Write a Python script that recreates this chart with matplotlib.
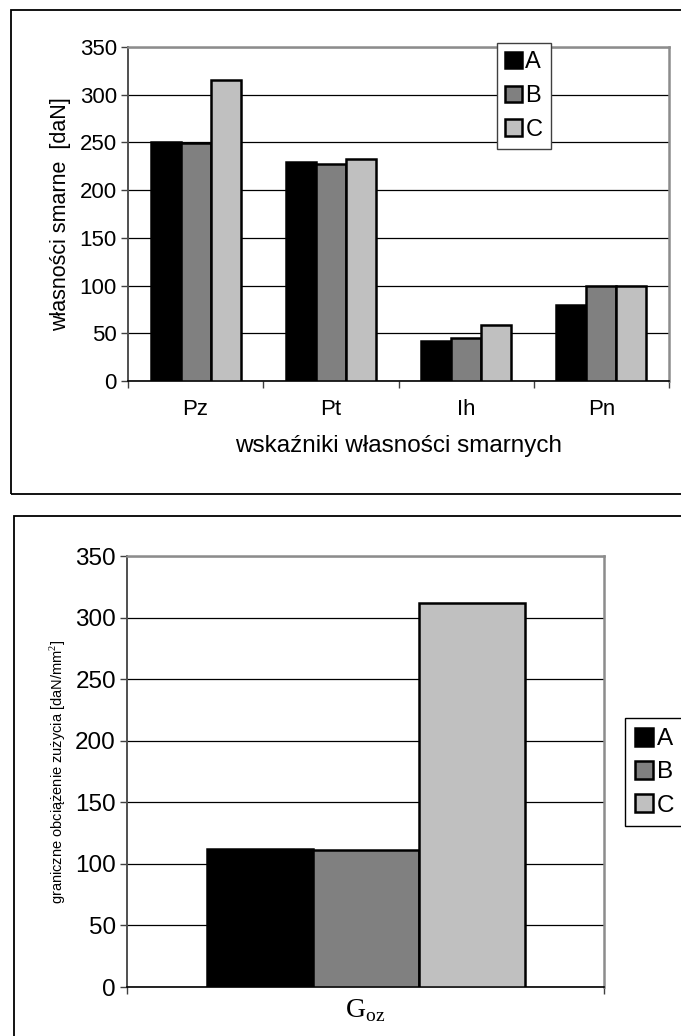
import numpy as np
import matplotlib
matplotlib.use("Agg")
from matplotlib import pyplot as plt
from matplotlib.patches import Rectangle

plt.rcParams['font.family'] = ['Liberation Sans', 'DejaVu Sans']
plt.rcParams['mathtext.fontset'] = 'custom'
plt.rcParams['mathtext.rm'] = 'Liberation Serif'

# lubricating properties of greases A, B, C
categories = ["Pz", "Pt", "Ih", "Pn"]
series = ["A", "B", "C"]
vals_A = [250, 230, 42, 80]
vals_B = [249, 227, 45, 100]
vals_C = [315, 233, 59, 100]

# wear load limit
goz_A = [112]
goz_B = [111]
goz_C = [312]

colors = ["#000000", "#808080", "#c0c0c0"]
W, H = 681, 1036

fig = plt.figure(figsize=(W / 100, H / 100), dpi=100)

# frames around both charts
fig.patches.append(Rectangle((11 / W, 1 - 494 / H), 2.0, (494 - 10) / H,
                             transform=fig.transFigure, fill=False,
                             edgecolor="black", linewidth=1.3))
fig.patches.append(Rectangle((14 / W, -1.0), 2.0, 1.0 + 1 - 516 / H,
                             transform=fig.transFigure, fill=False,
                             edgecolor="black", linewidth=1.3))


def style_axes(ax, ncat, fs):
    ax.set_ylim(0, 350)
    ax.set_yticks(np.arange(0, 351, 50))
    ax.set_xlim(0, ncat)
    ax.set_xticks(np.arange(ncat + 1))
    ax.set_xticklabels([])
    ax.yaxis.grid(True, color="black", linewidth=0.9)
    ax.set_axisbelow(True)
    for s in ["top", "right"]:
        ax.spines[s].set_color("#8c8c8c")
        ax.spines[s].set_linewidth(1.8)
    ax.spines["left"].set_color("#505050")
    ax.spines["left"].set_linewidth(1.4)
    ax.spines["bottom"].set_color("black")
    ax.spines["bottom"].set_linewidth(1.2)
    ax.tick_params(axis="both", direction="out", length=5, width=1,
                   color="#404040", labelsize=fs)
    ax.tick_params(axis="y", pad=3)


def draw_bars(ax, groups):
    bw = 1 / 4.5
    x = np.arange(len(groups[0])) + 0.5
    for i, (vals, c) in enumerate(zip(groups, colors)):
        ax.bar(x + (i - 1) * bw, vals, width=bw, color=c, edgecolor="black",
               linewidth=1.8, label=series[i], zorder=3)


# top chart
ax1 = fig.add_axes([128 / W, 1 - 381 / H, (669 - 128) / W, (381 - 47) / H])
draw_bars(ax1, [vals_A, vals_B, vals_C])
style_axes(ax1, len(categories), 16)
ax1.set_xticks(np.arange(len(categories)) + 0.5, minor=True)
ax1.set_xticklabels(categories, minor=True, fontsize=16)
ax1.tick_params(axis="x", which="minor", length=0, pad=13)
ax1.set_xlabel("wskaźniki własności smarnych", fontsize=17.5, labelpad=11)
ax1.set_ylabel("własności smarne  [daN]", fontsize=15.5, labelpad=6)
leg1 = ax1.legend(loc="upper left", bbox_to_anchor=(497 / W, 1 - 43 / H),
                  bbox_transform=fig.transFigure, fontsize=17,
                  handlelength=0.7, handleheight=0.7, handletextpad=0.15,
                  labelspacing=0.5, borderpad=0.35, borderaxespad=0,
                  fancybox=False, edgecolor="#404040", framealpha=1)
leg1.get_frame().set_linewidth(1.0)

# bottom chart
ax2 = fig.add_axes([127 / W, 1 - 987 / H, (604 - 127) / W, (987 - 556) / H])
draw_bars(ax2, [goz_A, goz_B, goz_C])
style_axes(ax2, 1, 17.5)
ax2.set_xticks([0.5], minor=True)
ax2.set_xticklabels([r"$\mathrm{G}_{\mathrm{oz}}$"], minor=True, fontsize=20)
ax2.tick_params(axis="x", which="minor", length=0, pad=7)
ax2.set_ylabel("graniczne obciążenie zużycia [daN/mm$^2$]", fontsize=10.5,
               labelpad=5)
leg2 = ax2.legend(loc="upper left", bbox_to_anchor=(625 / W, 1 - 718 / H),
                  bbox_transform=fig.transFigure, fontsize=17.5,
                  handlelength=0.75, handleheight=0.75, handletextpad=0.15,
                  labelspacing=0.45, borderpad=0.4, borderaxespad=0,
                  fancybox=False, edgecolor="black", framealpha=1)
leg2.get_frame().set_linewidth(1.0)

fig.savefig("out.png", dpi=100)
